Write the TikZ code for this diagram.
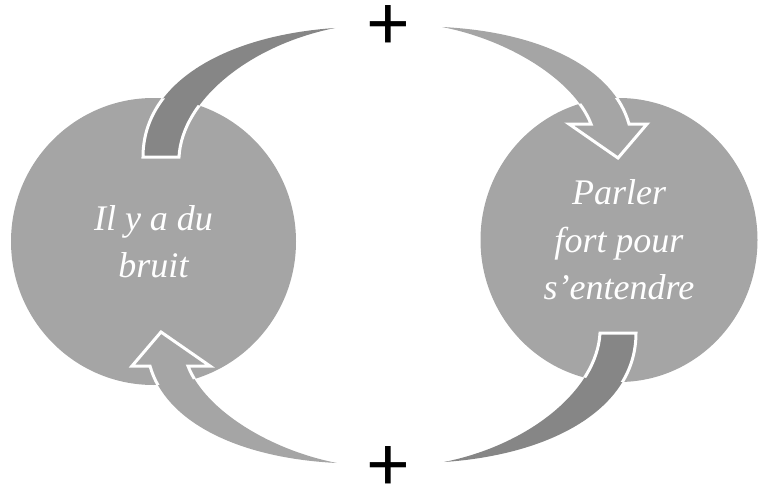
\documentclass[tikz,border=0pt]{standalone}
\usepackage{fontspec}
\setmainfont{Liberation Serif}
\newfontfamily\plusfont{Carlito}
\usetikzlibrary{shapes.geometric}
\definecolor{circgray}{RGB}{165,165,165}
\definecolor{bandgray}{RGB}{134,134,134}
\begin{document}
\begin{tikzpicture}[x=1pt,y=-1pt,
  bubble/.style={ellipse, fill=circgray, text=white, font=\fontsize{36}{47.5}\selectfont\itshape, align=center, inner sep=0pt},
  rim/.style={draw=white, line width=3pt, line join=miter},
  sign/.style={font=\plusfont\fontsize{80}{80}\selectfont, inner sep=0pt}]
\useasboundingbox (0,0) rectangle (758,487);
\node[bubble, minimum width=285pt, minimum height=287pt] (bruit) at (153.5,241.5) {Il y a du\\bruit};
\node[bubble, minimum width=277pt, minimum height=284pt] (parler) at (619,240) {Parler\\fort pour\\s’entendre};
\node[sign] (plustop) at (388,28) {+};
\node[sign] (plusbot) at (388,469) {+};
\def\bandpath{(143,157) .. controls (143,80) and (230,35) .. (335,28) .. controls (250,45) and (182,100) .. (179,157) -- cycle}
\def\arrowpath{(337,463) .. controls (235,458) and (165,420) .. (150,366) -- (132,366) -- (161,332) -- (210,366) -- (188,366) .. controls (205,410) and (270,450) .. (337,463) -- cycle}
% left side: band leaving the left circle, arrow entering it
\fill[bandgray] \bandpath;
\fill[circgray] \arrowpath;
\begin{scope}
\clip (bruit.center) ellipse [x radius=142.5, y radius=143.5];
\draw[rim] \bandpath;
\draw[rim] \arrowpath;
\end{scope}
% right side (point symmetric)
\begin{scope}[rotate around={180:(389.5,245)}]
\fill[bandgray] \bandpath;
\fill[circgray] \arrowpath;
\end{scope}
\begin{scope}
\clip (parler.center) ellipse [x radius=138.5, y radius=142];
\begin{scope}[rotate around={180:(389.5,245)}]
\draw[rim] \bandpath;
\draw[rim] \arrowpath;
\end{scope}
\end{scope}
\end{tikzpicture}
\end{document}
